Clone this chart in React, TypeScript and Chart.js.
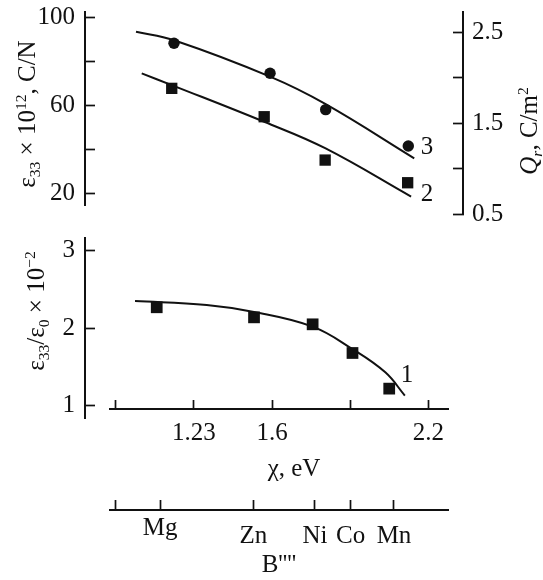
import React, { useEffect, useRef } from 'react';
import { Chart, registerables } from 'chart.js';

Chart.register(...registerables);

const FONT = '"Liberation Serif", "Times New Roman", serif';
const INK = '#111111';

// ---- data (x is measured in χ-axis tick steps: tick 0 .. tick 4) ----
const chiTickPos = [0, 1, 2, 3, 4];
const chiTickLabels = ['', '1.23', '1.6', '', '2.2'];
const elementPos = [0, 0.567, 1.761, 2.55, 3.007, 3.561];
const elementLabels = ['', 'Mg', 'Zn', 'Ni', 'Co', 'Mn'];

// curve 1: ε33/ε0 × 10^-2
const s1X = [0.525, 1.77, 2.52, 3.03, 3.5];
const s1Y = [2.27, 2.14, 2.05, 1.68, 1.22];
const fit1X = [0.247, 1.164, 1.77, 2.52, 3.03, 3.45, 3.7];
const fit1Y = [2.35, 2.3, 2.21, 2.02, 1.73, 1.43, 1.13];

// curve 2: ε33 × 10^12, C/N (left axis)
const s2X = [0.717, 1.9, 2.68, 3.736];
const s2Y = [67.7, 54.8, 35.1, 24.8];
const fit2X = [0.333, 0.717, 1.9, 2.68, 3.78];
const fit2Y = [74.5, 69.2, 52.5, 40.5, 18.5];

// curve 3: Q_r, C/m^2 (right axis)
const s3X = [0.746, 1.975, 2.687, 3.744];
const s3Y = [2.38, 2.05, 1.65, 1.25];
const fit3X = [0.26, 0.746, 1.975, 2.687, 3.82];
const fit3Y = [2.507, 2.412, 2.012, 1.71, 1.115];

const epsTicks = [20, 40, 60, 80, 100];
const epsLabels = ['20', '', '60', '', '100'];
const qTicks = [0.5, 1, 1.5, 2, 2.5];
const qLabels = ['0.5', '', '1.5', '', '2.5'];
const ratioTicks = [1, 2, 3];
const ratioLabels = ['1', '2', '3'];

// ---- layout helpers ----
const W = 543;
const H = 580;
const PX0 = 115.7; // pixel of χ tick 0
const UNIT = 78.15; // pixels per χ tick step
const xv = (px: number) => (px - PX0) / UNIT;

const pts = (xs: number[], ys: number[]) => xs.map((x, i) => ({ x, y: ys[i] }));

const FS = 25;
const tickFont = { family: FONT, size: FS };

function noPad(s: any) {
  s.paddingTop = 0;
  s.paddingBottom = 0;
  s.paddingLeft = 0;
  s.paddingRight = 0;
}

function yAxis(
  pos: 'left' | 'right',
  min: number,
  max: number,
  ticks: number[],
  labels: string[],
  width: number,
  padding: number
): any {
  return {
    type: 'linear',
    position: pos,
    min,
    max,
    afterFit: (s: any) => {
      s.width = width;
      noPad(s);
    },
    afterBuildTicks: (s: any) => {
      s.ticks = ticks.map((v) => ({ value: v }));
    },
    ticks: {
      callback: (_v: any, i: number) => labels[i] ?? '',
      font: tickFont,
      color: INK,
      padding,
      autoSkip: false,
    },
    grid: {
      display: true,
      drawOnChartArea: false,
      drawTicks: true,
      tickLength: -10,
      tickWidth: 1.7,
      tickColor: INK,
      color: INK,
    },
    border: { display: true, color: INK, width: 2 },
  };
}

function fitLine(xs: number[], ys: number[], yAxisID = 'y'): any {
  return {
    data: pts(xs, ys),
    yAxisID,
    showLine: true,
    borderColor: INK,
    borderWidth: 2,
    pointRadius: 0,
    tension: 0.4,
    fill: false,
    clip: false,
  };
}

function markers(xs: number[], ys: number[], style: string, radius: number): any {
  return {
    data: pts(xs, ys),
    showLine: false,
    pointStyle: style,
    pointRadius: radius,
    backgroundColor: INK,
    borderColor: INK,
    borderWidth: 0,
  };
}

const baseOptions = (padding: any, scales: any): any => ({
  responsive: false,
  animation: false,
  devicePixelRatio: 1,
  layout: { padding },
  plugins: { legend: { display: false }, tooltip: { enabled: false } },
  events: [],
  scales,
});

const hiddenX = (l: number, r: number) => ({ type: 'linear', display: false, min: xv(l), max: xv(r) });

function cfgTopLeft(): any {
  return {
    type: 'scatter',
    data: { datasets: [fitLine(fit2X, fit2Y), markers(s2X, s2Y, 'rect', 8)] },
    options: baseOptions(
      { left: 0, right: W - 463, top: 12, bottom: H - 205 },
      {
        x: hiddenX(85, 463),
        y: yAxis('left', 14.68, 102.41, epsTicks, epsLabels, 85, 20),
      }
    ),
  };
}

function cfgTopRight(): any {
  return {
    type: 'scatter',
    data: { datasets: [fitLine(fit3X, fit3Y), markers(s3X, s3Y, 'circle', 5.7)] },
    options: baseOptions(
      { left: 85, right: 0, top: 12, bottom: H - 214.3 },
      {
        x: hiddenX(85, 463),
        y: yAxis('right', 0.5, 2.723, qTicks, qLabels, W - 463, 19),
      }
    ),
  };
}

function cfgBottom(): any {
  return {
    type: 'scatter',
    data: { datasets: [fitLine(fit1X, fit1Y), markers(s1X, s1Y, 'rect', 8.3)] },
    options: baseOptions(
      { left: 0, right: W - 463, top: 238, bottom: H - 418 },
      {
        x: hiddenX(85, 463),
        y: yAxis('left', 0.841, 3.164, ratioTicks, ratioLabels, 85, 20),
      }
    ),
  };
}

function xAxis(
  ticks: number[],
  labels: string[],
  height: number,
  padding: number,
  tl: number,
  weight: number,
  title: any,
  fontFn?: any
): any {
  return {
    type: 'linear',
    position: 'bottom',
    weight,
    min: xv(110),
    max: xv(448),
    afterFit: (s: any) => {
      s.height = height;
      noPad(s);
    },
    afterBuildTicks: (s: any) => {
      s.ticks = ticks.map((v) => ({ value: v }));
    },
    ticks: {
      callback: (_v: any, i: number) => labels[i] ?? '',
      font: fontFn || tickFont,
      color: INK,
      padding,
      autoSkip: false,
      maxRotation: 0,
      minRotation: 0,
    },
    grid: {
      display: true,
      drawOnChartArea: false,
      drawTicks: true,
      tickLength: tl,
      tickWidth: 1.7,
      tickColor: INK,
      color: INK,
    },
    border: { display: true, color: INK, width: 2 },
    title,
  };
}

function cfgAxes(): any {
  return {
    type: 'scatter',
    data: { datasets: [] },
    options: baseOptions(
      { left: 110, right: W - 448, top: 380, bottom: 0 },
      {
        y: { type: 'linear', display: false, min: 0, max: 1 },
        x: xAxis(chiTickPos, chiTickLabels, 510 - 409, 18, -9, 0, { display: false }),
        x2: xAxis(
          elementPos,
          elementLabels,
          H - 510,
          21.7,
          -10,
          1,
          {
            display: true,
            text: "B''''",
            font: { family: FONT, size: FS },
            color: INK,
            padding: { top: 0, bottom: 0 },
          },
          (ctx: any) => ({ family: FONT, size: FS, lineHeight: ctx.index === 1 ? 0.52 : 1.2 })
        ),
      }
    ),
  };
}

const textBase: React.CSSProperties = {
  position: 'absolute',
  fontFamily: FONT,
  fontSize: FS,
  color: INK,
  lineHeight: 1,
  whiteSpace: 'nowrap',
};

function Txt({ x, y, rot, children }: { x: number; y: number; rot?: boolean; children: React.ReactNode }) {
  return (
    <div
      style={{
        ...textBase,
        left: x,
        top: y,
        transform: rot ? 'translate(-50%, -50%) rotate(-90deg)' : 'translate(-50%, -50%)',
      }}
    >
      {children}
    </div>
  );
}

const sub: React.CSSProperties = { fontSize: '0.62em', position: 'relative', top: '0.3em' };
const sup: React.CSSProperties = { fontSize: '0.62em', position: 'relative', top: '-0.55em' };

export default function App() {
  const r1 = useRef<HTMLCanvasElement>(null);
  const r2 = useRef<HTMLCanvasElement>(null);
  const r3 = useRef<HTMLCanvasElement>(null);
  const r4 = useRef<HTMLCanvasElement>(null);

  useEffect(() => {
    const charts = [
      new Chart(r1.current!, cfgTopLeft()),
      new Chart(r2.current!, cfgTopRight()),
      new Chart(r3.current!, cfgBottom()),
      new Chart(r4.current!, cfgAxes()),
    ];
    return () => charts.forEach((c) => c.destroy());
  }, []);

  const cv: React.CSSProperties = { position: 'absolute', left: 0, top: 0, width: W, height: H };

  return (
    <div style={{ position: 'absolute', left: 0, top: 0, width: W, height: H, background: '#fff', overflow: 'hidden' }}>
      <canvas ref={r1} width={W} height={H} style={cv} />
      <canvas ref={r2} width={W} height={H} style={cv} />
      <canvas ref={r3} width={W} height={H} style={cv} />
      <canvas ref={r4} width={W} height={H} style={cv} />

      <Txt x={26} y={114} rot>
        ε<span style={sub}>33</span> × 10<span style={sup}>12</span>, C/N
      </Txt>
      <Txt x={528} y={131} rot>
        <i>Q</i>
        <span style={{ ...sub, fontStyle: 'italic' }}>r</span>, C/m<span style={sup}>2</span>
      </Txt>
      <Txt x={35} y={311} rot>
        ε<span style={sub}>33</span>/ε<span style={sub}>0</span> × 10<span style={sup}>−2</span>
      </Txt>
      <Txt x={294} y={467}>χ, eV</Txt>
      <Txt x={427} y={145}>3</Txt>
      <Txt x={427} y={192}>2</Txt>
      <Txt x={407} y={373}>1</Txt>
    </div>
  );
}
